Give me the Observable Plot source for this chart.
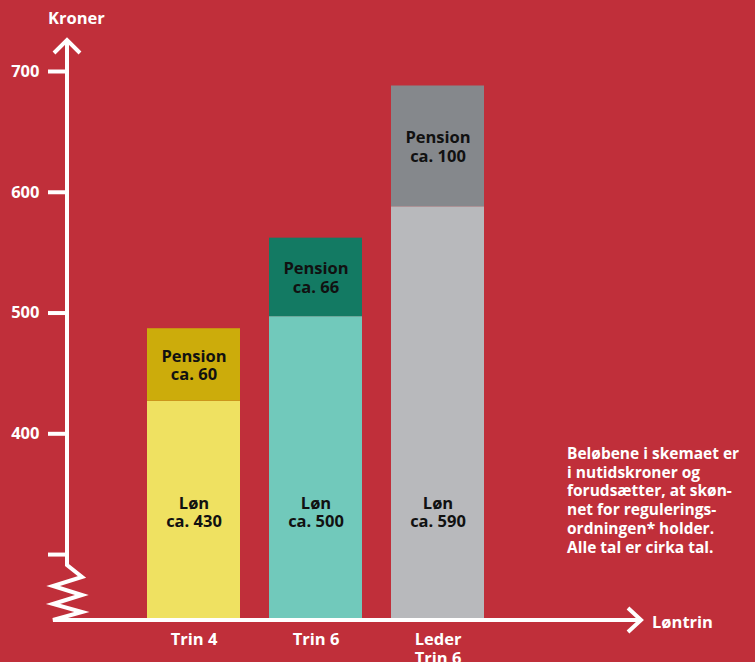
<!DOCTYPE html>
<html>
<head>
<meta charset="utf-8">
<script src="https://cdn.jsdelivr.net/npm/d3@7"></script>
<script src="https://cdn.jsdelivr.net/npm/@observablehq/plot@0.6"></script>
<style>
  html, body { margin: 0; padding: 0; background: #c02f3a; }
  #chart svg { display: block; }
</style>
</head>
<body>
<div id="chart"></div>
<script>
// ---- data ----
const categories = ["Trin 4", "Trin 6", "Leder\nTrin 6"];
const lon = [427, 497, 588];            // bar heights
const pension = [60, 65, 100];
const lonLabels = ["Løn\nca. 430", "Løn\nca. 500", "Løn\nca. 590"];
const pensionLabels = ["Pension\nca. 60", "Pension\nca. 66", "Pension\nca. 100"];
const lonColors = ["#efe161", "#71c9bb", "#b8b9bc"];
const pensionColors = ["#ccac0b", "#137a63", "#85888c"];
const yTicks = [300, 400, 500, 600, 700];
const yTickLabels = ["", "400", "500", "600", "700"];
const yBase = 246;       // value where the broken axis meets the x axis
const lonLabelY = 335;   // all "Løn" labels sit at the same level
const yTitle = "Kroner";
const xTitle = "Løntrin";
const note = [
  "Beløbene i skemaet er",
  "i nutidskroner og",
  "forudsætter, at skøn-",
  "net for regulerings-",
  "ordningen* holder.",
  "Alle tal er cirka tal."
];

const rows = categories.map((c, i) => ({
  cat: c, lon: lon[i], top: lon[i] + pension[i],
  lonLabel: lonLabels[i], penLabel: pensionLabels[i],
  lonColor: lonColors[i], penColor: pensionColors[i]
}));

const FONT = "'Open Sans', 'DejaVu Sans', sans-serif";
const W = 755, H = 662;
const axisX = 67, axisY = 620;

const plot = Plot.plot({
  width: W, height: H,
  marginLeft: axisX, marginRight: 0, marginTop: 0, marginBottom: H - axisY,
  style: { background: "#c02f3a", fontFamily: FONT, color: "white", overflow: "visible" },
  x: { domain: categories, range: [117, 515], padding: 0.2358, label: null },
  y: { domain: [400, 700], range: [433.3, 71], label: null },
  marks: [
    Plot.barY(rows, { x: "cat", y1: yBase, y2: "lon", fill: "lonColor" }),
    Plot.barY(rows, { x: "cat", y1: "lon", y2: "top", fill: "penColor" }),
    Plot.text(rows, { x: "cat", y: lonLabelY, text: "lonLabel", fill: "#111",
      fontSize: 16.5, fontWeight: 700, lineHeight: 1.12, fontFamily: FONT }),
    Plot.text(rows, { x: "cat", y: d => (d.lon + d.top) / 2, text: "penLabel", fill: "#111",
      fontSize: 16.5, fontWeight: 700, lineHeight: 1.12, fontFamily: FONT }),
    Plot.axisY(yTicks, { anchor: "left", tickSize: 19, tickPadding: 9, stroke: "white",
      strokeWidth: 4, fill: "white", fontSize: 16.5, fontWeight: 700,
      tickFormat: (d) => yTickLabels[yTicks.indexOf(d)] }),
    Plot.axisX({ anchor: "bottom", tickSize: 0, tickPadding: 11, fill: "white",
      fontSize: 16.5, fontWeight: 700, lineHeight: 1.15, label: null })
  ]
});

// Decorative axis lines, arrows and the axis break
const svg = d3.select(plot);
const g = svg.append("g").attr("fill", "none").attr("stroke", "white")
  .attr("stroke-width", 4).attr("stroke-linejoin", "miter").attr("stroke-linecap", "butt");
const yTop = 40;
const zz = [[axisX, 565], [82, 577], [53, 586], [82, 595], [53, 604], [82, 612], [53, axisY]];
g.append("path").attr("d",
  `M${axisX},${yTop} L${axisX},565 ` + zz.slice(1).map(p => `L${p[0]},${p[1]}`).join(" ") +
  ` L641,${axisY}`);
g.append("path").attr("d", `M54,${yTop + 13} L${axisX},${yTop} L80,${yTop + 13}`);
g.append("path").attr("d", `M628,${axisY - 12} L641,${axisY} L628,${axisY + 12}`);

const txt = svg.append("g").attr("fill", "white").attr("text-anchor", "start")
  .attr("font-family", FONT).attr("font-weight", 700);
txt.append("text").attr("x", 48).attr("y", 24).attr("font-size", 16.5).text(yTitle);
txt.append("text").attr("x", 652).attr("y", 628).attr("font-size", 16.5).text(xTitle);
const t = txt.append("text").attr("font-size", 15.5);
note.forEach((line, i) => t.append("tspan").attr("x", 567).attr("y", 459 + i * 18.7).text(line));

document.getElementById("chart").appendChild(plot);
</script>
</body>
</html>
